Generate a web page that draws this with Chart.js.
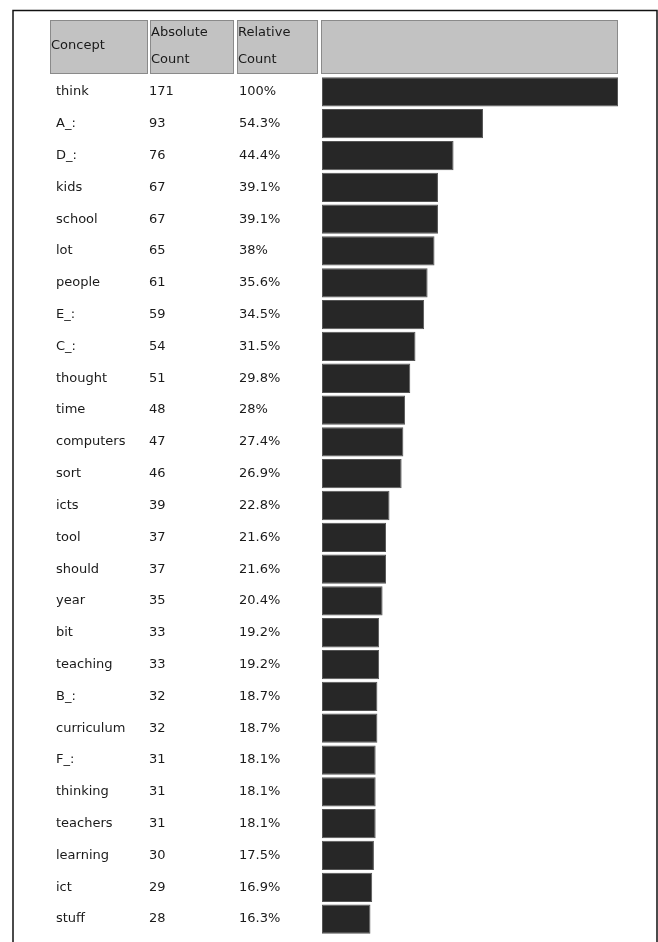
<!DOCTYPE html>
<html>
<head>
<meta charset="utf-8">
<script src="https://cdn.jsdelivr.net/npm/chart.js@4/dist/chart.umd.min.js"></script>
<style>
html,body{margin:0;padding:0;background:#fff;}
#wrap{position:relative;width:658px;height:942px;}
canvas{display:block;}
</style>
</head>
<body>
<div id="wrap"><canvas id="c" width="658" height="942"></canvas></div>
<script>
const concepts = ["think","A_:","D_:","kids","school","lot","people","E_:","C_:","thought","time","computers","sort","icts","tool","should","year","bit","teaching","B_:","curriculum","F_:","thinking","teachers","learning","ict","stuff"];
const absoluteCounts = [171,93,76,67,67,65,61,59,54,51,48,47,46,39,37,37,35,33,33,32,32,31,31,31,30,29,28];
const relativeCounts = ["100%","54.3%","44.4%","39.1%","39.1%","38%","35.6%","34.5%","31.5%","29.8%","28%","27.4%","26.9%","22.8%","21.6%","21.6%","20.4%","19.2%","19.2%","18.7%","18.7%","18.1%","18.1%","18.1%","17.5%","16.9%","16.3%"];
const headerLabels = [["Concept"],["Absolute","Count"],["Relative","Count"]];

const FONT = '13px "DejaVu Sans", Verdana, sans-serif';

const tablePlugin = {
  id: 'tablePlugin',
  beforeDraw(chart) {
    const ctx = chart.ctx;
    const area = chart.chartArea;
    ctx.save();
    // frame
    ctx.strokeStyle = '#111';
    ctx.lineWidth = 1.5;
    ctx.beginPath();
    ctx.moveTo(13, 942);
    ctx.lineTo(13, 10.5);
    ctx.lineTo(657, 10.5);
    ctx.lineTo(657, 942);
    ctx.stroke();
    // header cells
    const cells = [[50,148],[150,234],[237,318],[area.left - 1, area.right]];
    const hTop = 20, hBot = 74;
    cells.forEach(([x0,x1]) => {
      ctx.fillStyle = '#c2c2c2';
      ctx.fillRect(x0, hTop, x1 - x0, hBot - hTop);
      ctx.strokeStyle = '#8a8a8a';
      ctx.lineWidth = 1;
      ctx.strokeRect(x0 + 0.5, hTop + 0.5, x1 - x0 - 1, hBot - hTop - 1);
    });
    ctx.fillStyle = '#1a1a1a';
    ctx.font = FONT;
    ctx.textBaseline = 'middle';
    ctx.textAlign = 'left';
    ctx.fillText(headerLabels[0][0], 51, 46);
    ctx.fillText(headerLabels[1][0], 151, 33);
    ctx.fillText(headerLabels[1][1], 151, 60);
    ctx.fillText(headerLabels[2][0], 238, 33);
    ctx.fillText(headerLabels[2][1], 238, 60);
    ctx.restore();
  },
  afterDraw(chart) {
    const ctx = chart.ctx;
    const y = chart.scales.y;
    ctx.save();
    ctx.fillStyle = '#1a1a1a';
    ctx.font = FONT;
    ctx.textBaseline = 'middle';
    ctx.textAlign = 'left';
    concepts.forEach((c, i) => {
      const py = y.getPixelForValue(i);
      ctx.fillText(c, 56, py);
      ctx.fillText(String(absoluteCounts[i]), 149, py);
      ctx.fillText(relativeCounts[i], 239, py);
    });
    ctx.restore();
  }
};

new Chart(document.getElementById('c'), {
  type: 'bar',
  data: {
    labels: concepts,
    datasets: [{
      data: absoluteCounts,
      backgroundColor: '#272727',
      borderColor: '#555',
      borderWidth: 1,
      borderSkipped: false,
      categoryPercentage: 1,
      barPercentage: 0.92
    }]
  },
  options: {
    indexAxis: 'y',
    responsive: false,
    animation: false,
    devicePixelRatio: 1,
    layout: { padding: { left: 322, right: 40, top: 76, bottom: 7 } },
    plugins: { legend: { display: false }, tooltip: { enabled: false } },
    scales: {
      x: { display: false, min: 0, max: 171 },
      y: { display: false, offset: true }
    }
  },
  plugins: [tablePlugin]
});
</script>
</body>
</html>
